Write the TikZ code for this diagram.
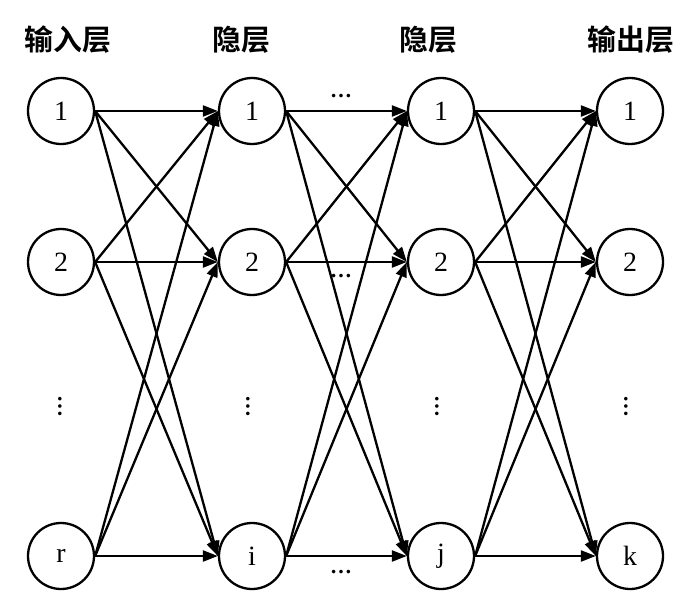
\documentclass[tikz,border=0pt]{standalone}
\usepackage{fontspec}
\setmainfont{Liberation Serif}
\newfontfamily\cjk{Noto Sans CJK SC Bold}
\usetikzlibrary{arrows.meta}
\begin{document}
\begin{tikzpicture}[x=1bp,y=-1bp,
  neuron/.style={circle,draw,line width=2.3bp,minimum size=66bp,inner sep=0pt,font=\fontsize{28}{28}\selectfont},
  title/.style={font=\cjk\fontsize{29}{29}\selectfont},
  conn/.style={line width=2.3bp,-{Triangle[length=15bp,width=11bp]}},
  hdots/.style={font=\bfseries\fontsize{22}{22}\selectfont,inner sep=0pt},
  vdots/.style={hdots,rotate=90}]
\useasboundingbox (0,0) rectangle (700,612);
% titles
\node[title] (t1) at (68,40) {输入层};
\node[title] (t2) at (241,40) {隐层};
\node[title] (t3) at (428,40) {隐层};
\node[title] (t4) at (631,40) {输出层};
% nodes
\foreach \c/\x in {a/61, b/252, c/441, d/630}{
  \node[neuron] (\c1) at (\x,111) {1};
  \node[neuron] (\c2) at (\x,262) {2};
}
\node[neuron] (a3) at (61,556) {r};
\node[neuron] (b3) at (252,556) {i};
\node[neuron] (c3) at (441,556) {j};
\node[neuron] (d3) at (630,556) {k};
% vertical dots
\node[vdots] (va) at (60,407) {…};
\node[vdots] (vb) at (248,407) {…};
\node[vdots] (vc) at (437,407) {…};
\node[vdots] (vd) at (626,407) {…};
% horizontal dots
\node[hdots] (h1) at (341,96) {…};
\node[hdots] (h2) at (341,276) {…};
\node[hdots] (h3) at (341,572) {…};
% connections
\foreach \s/\t in {a/b, b/c, c/d}{
  \foreach \i in {1,2,3}{
    \foreach \j in {1,2,3}{
      \draw[conn] (\s\i.east) -- (\t\j.west);
    }
  }
}
\end{tikzpicture}
\end{document}
